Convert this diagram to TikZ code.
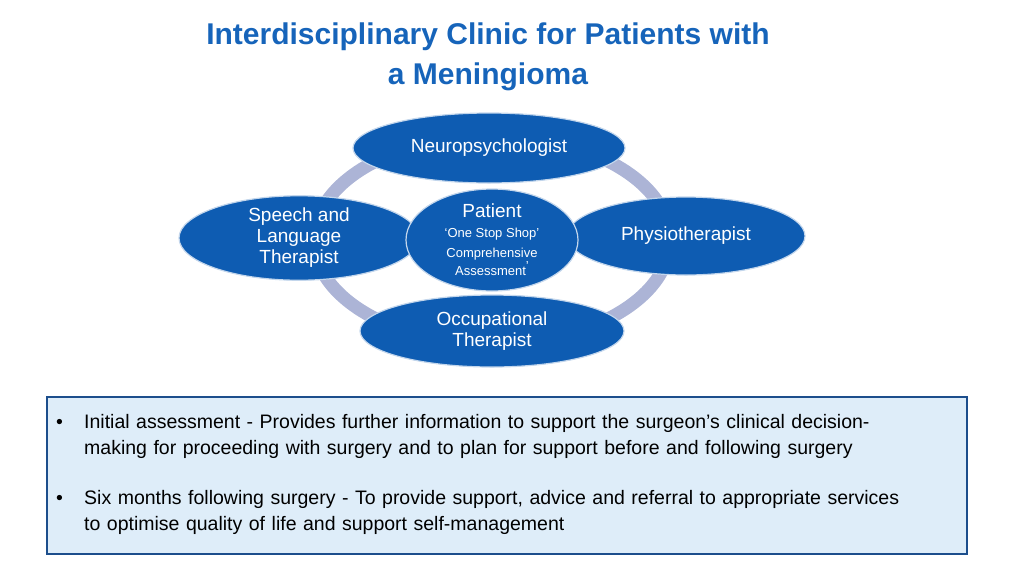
\documentclass[tikz,border=0pt]{standalone}
\usepackage{fontspec}
\setmainfont{Liberation Sans}
\usetikzlibrary{shapes.geometric}
\definecolor{tblue}{RGB}{22,100,186}
\definecolor{efill}{RGB}{14,92,178}
\definecolor{ring}{RGB}{172,180,214}
\definecolor{boxfill}{RGB}{222,237,249}
\definecolor{boxline}{RGB}{28,78,140}
\tikzset{
 ell/.style={ellipse, fill=efill, draw=white!75!efill, line width=1.2pt, text=white, inner sep=0pt, align=center, font=\fontsize{19}{21}\selectfont},
}
\begin{document}
\begin{tikzpicture}[x=1pt,y=-1pt]
\useasboundingbox (0,0) rectangle (1024,576);
\node[text=tblue, font=\fontsize{30}{40}\selectfont\bfseries, align=center] (title) at (488,57) {Interdisciplinary Clinic for Patients with\\a Meningioma};
\draw[ring, line width=13pt] (492,240) ellipse [x radius=178, y radius=104];
\node[ell, minimum width=272pt, minimum height=70pt] (neuro) at (489,148) {Neuropsychologist};
\node[ell, minimum width=240pt, minimum height=74pt] (speech) at (299,238) {Speech and\\Language\\Therapist};
\node[ell, minimum width=238pt, minimum height=78pt] (physio) at (686,236) {Physiotherapist};
\node[ell, minimum width=264pt, minimum height=72pt] (occ) at (492,331) {Occupational\\Therapist};
\node[ell, minimum width=172pt, minimum height=102pt, font=\fontsize{19}{22}\selectfont] (patient) at (492,240) {Patient\\[-2pt]{\fontsize{13}{22}\selectfont ‘One Stop Shop’}\\[-2pt]{\fontsize{13}{22}\selectfont Comprehensive}\\[-4pt]{\fontsize{13}{18}\selectfont Assessment\raisebox{5pt}{’}}};
\node[draw=boxline, line width=1.8pt, fill=boxfill, minimum width=920pt, minimum height=157pt, anchor=north west, inner sep=0pt] (box) at (46,396) {};
\node[anchor=north west, align=left, font=\fontsize{19.5}{26}\selectfont, text width=900pt, inner sep=0pt] (txt) at (52,414) {%
\makebox[32pt][l]{\hspace{4pt}•}Initial assessment - Provides further information to support the surgeon’s clinical decision-\\
\hspace*{32pt}making for proceeding with surgery and to plan for support before and following surgery\\[24pt]
\makebox[32pt][l]{\hspace{4pt}•}Six months following surgery - To provide support, advice and referral to appropriate services\\
\hspace*{32pt}to optimise quality of life and support self-management};
\end{tikzpicture}
\end{document}
